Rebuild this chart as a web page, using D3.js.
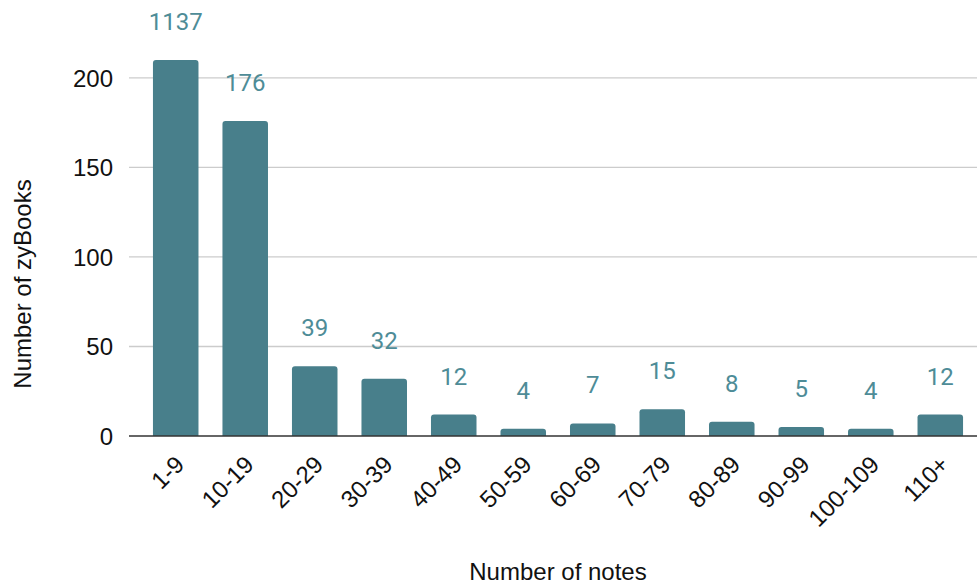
<!DOCTYPE html>
<html>
<head>
<meta charset="utf-8">
<script src="https://cdn.jsdelivr.net/npm/d3@7"></script>
<style>
  html, body { margin: 0; padding: 0; background: #ffffff; }
  svg { display: block; }
</style>
</head>
<body>
<svg id="chart" width="977" height="584"></svg>
<script>
const categories = ["1-9", "10-19", "20-29", "30-39", "40-49", "50-59", "60-69", "70-79", "80-89", "90-99", "100-109", "110+"];
const counts = [1137, 176, 39, 32, 12, 4, 7, 15, 8, 5, 4, 12];
const yTicks = [0, 50, 100, 150, 200];
const yMax = 210;
const xTitle = "Number of notes";
const yTitle = "Number of zyBooks";

const svg = d3.select("#chart");
const plotLeft = 129, plotRight = 977, plotTop = 60, plotBottom = 436;
const barColor = "#487f8b";
const labelColor = "#4e8c97";
const axisFont = "'Liberation Sans', Arial, Helvetica, sans-serif";
const labelFont = "Roboto, 'Noto Sans', sans-serif";

const x = d3.scaleBand().domain(categories).range([141, 975]).paddingInner(0.345).paddingOuter(0.172);
const y = d3.scaleLinear().domain([0, yMax]).range([plotBottom, plotTop]);

// gridlines
svg.append("g").selectAll("line").data(yTicks.filter(t => t > 0)).join("line")
  .attr("x1", plotLeft).attr("x2", plotRight)
  .attr("y1", d => y(d)).attr("y2", d => y(d))
  .attr("stroke", "#cccccc").attr("stroke-width", 1.3);

// y axis labels
const yAxis = d3.axisLeft(y).tickValues(yTicks).tickSize(0).tickPadding(0);
const yg = svg.append("g").attr("transform", `translate(113,0)`).call(yAxis);
yg.select(".domain").remove();
yg.selectAll("text").attr("font-family", axisFont).attr("font-size", 24).attr("fill", "#111").attr("dy", "0.35em");

// bars
function barPath(x0, y0, w, h, r) {
  r = Math.min(r, h / 2, w / 2);
  return `M${x0},${y0 + h}V${y0 + r}Q${x0},${y0} ${x0 + r},${y0}H${x0 + w - r}Q${x0 + w},${y0} ${x0 + w},${y0 + r}V${y0 + h}Z`;
}
svg.append("g").selectAll("path").data(categories).join("path")
  .attr("d", (c, i) => {
    const v = Math.min(counts[i], yMax);
    const top = y(v);
    return barPath(x(c), top, x.bandwidth(), plotBottom - top, 3);
  })
  .attr("fill", barColor);

// baseline
svg.append("line").attr("x1", plotLeft).attr("x2", plotRight)
  .attr("y1", y(0)).attr("y2", y(0)).attr("stroke", "#333").attr("stroke-width", 1.5);

// value labels
svg.append("g").selectAll("text").data(categories).join("text")
  .attr("x", c => x(c) + x.bandwidth() / 2)
  .attr("y", (c, i) => y(Math.min(counts[i], yMax)) - 30)
  .attr("text-anchor", "middle")
  .attr("font-family", labelFont).attr("font-size", 24)
  .attr("fill", labelColor)
  .text((c, i) => counts[i]);

// x axis labels
const xAxis = d3.axisBottom(x).tickSize(0).tickPadding(0);
const xg = svg.append("g").attr("transform", `translate(0,${plotBottom})`).call(xAxis);
xg.select(".domain").remove();
xg.selectAll(".tick text")
  .attr("font-family", axisFont).attr("font-size", 24).attr("fill", "#111")
  .attr("text-anchor", "end")
  .attr("dy", null).attr("y", 0)
  .attr("transform", "translate(10,30) rotate(-45)");

// axis titles
svg.append("text").attr("x", 558).attr("y", 580).attr("text-anchor", "middle")
  .attr("font-family", axisFont).attr("font-size", 24).attr("fill", "#111").text(xTitle);
svg.append("text").attr("transform", "translate(31,284) rotate(-90)").attr("text-anchor", "middle")
  .attr("font-family", axisFont).attr("font-size", 24).attr("fill", "#111").text(yTitle);
</script>
</body>
</html>
